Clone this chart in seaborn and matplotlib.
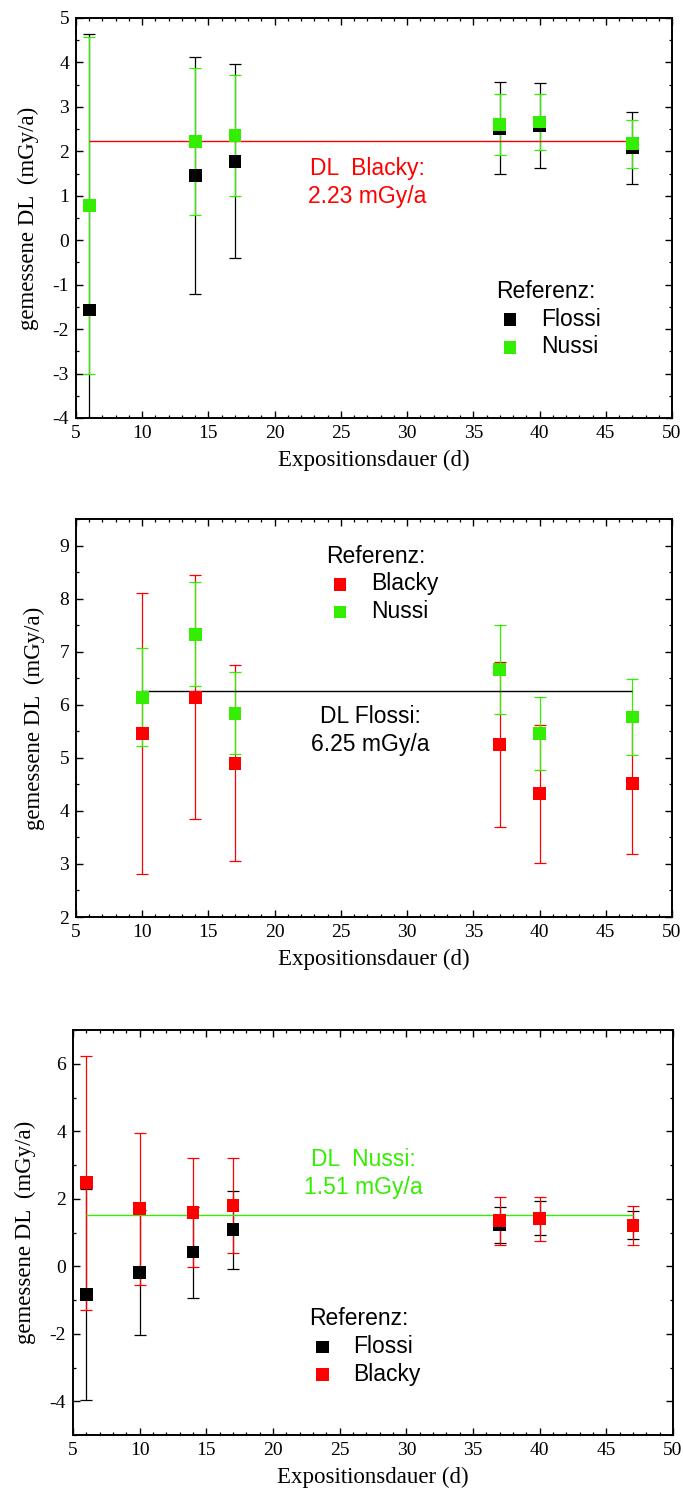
import numpy as np
import pandas as pd
import matplotlib
matplotlib.use("Agg")
import matplotlib.pyplot as plt
from matplotlib.ticker import MultipleLocator
from matplotlib.font_manager import FontProperties
import seaborn as sns

# ---------------- data ----------------
days1 = [6, 14, 17, 37, 40, 47]
flossi1 = [-1.57, 1.45, 1.78, 2.52, 2.58, 2.08]
flossi1_err = [6.2, 2.67, 2.19, 1.04, 0.95, 0.81]
nussi1 = [0.78, 2.22, 2.36, 2.61, 2.66, 2.17]
nussi1_err = [3.8, 1.66, 1.36, 0.69, 0.64, 0.54]
dl_blacky = 2.23

days2 = [10, 14, 17, 37, 40, 47]
blacky2 = [5.46, 6.14, 4.90, 5.25, 4.32, 4.52]
blacky2_err = [2.65, 2.30, 1.85, 1.55, 1.30, 1.33]
nussi2 = [6.14, 7.33, 5.84, 6.66, 5.46, 5.77]
nussi2_err = [0.92, 0.98, 0.77, 0.84, 0.69, 0.72]
dl_flossi = 6.25

days3 = [6, 10, 14, 17, 37, 40, 47]
flossi3 = [-0.84, -0.18, 0.42, 1.08, 1.22, 1.42, 1.22]
flossi3_err = [3.12, 1.86, 1.35, 1.15, 0.53, 0.50, 0.41]
blacky3 = [2.47, 1.70, 1.60, 1.80, 1.35, 1.41, 1.20]
blacky3_err = [3.77, 2.25, 1.62, 1.42, 0.71, 0.65, 0.58]
dl_nussi = 1.51

BLACK = "#000000"
RED = "#FF0000"
GREEN = "#33EE00"

sns.set_theme(style="ticks")
plt.rcParams["font.family"] = ["Liberation Serif", "DejaVu Serif"]
plt.rcParams["axes.linewidth"] = 1.4
plt.rcParams["axes.edgecolor"] = "black"
plt.rcParams["axes.unicode_minus"] = False
plt.rcParams["text.color"] = "black"
plt.rcParams["axes.labelcolor"] = "black"
plt.rcParams["xtick.color"] = "black"
plt.rcParams["ytick.color"] = "black"
plt.rcParams["legend.labelcolor"] = "black"

SANS = ["Liberation Sans", "DejaVu Sans"]
fig = plt.figure(figsize=(6.83, 14.99), dpi=100)
W, H = 683, 1499


def make_ax(left, right, top, bottom):
    return fig.add_axes([left / W, 1 - bottom / H, (right - left) / W, (bottom - top) / H])


def style_ax(ax, ylim, ymaj, ymin):
    ax.set_xlim(5, 50)
    ax.set_ylim(*ylim)
    ax.xaxis.set_major_locator(MultipleLocator(5))
    ax.xaxis.set_minor_locator(MultipleLocator(1))
    ax.yaxis.set_major_locator(MultipleLocator(ymaj))
    ax.yaxis.set_minor_locator(MultipleLocator(ymin))
    ax.tick_params(which="both", direction="in", top=True, right=True,
                   labeltop=False, labelright=False, color="black", labelcolor="black")
    ax.tick_params(which="major", length=5, width=1.0, labelsize=14, pad=5)
    ax.tick_params(which="minor", length=2.5, width=0.9)
    for s in ax.spines.values():
        s.set_visible(True)
        s.set_linewidth(1.4)
        s.set_color("black")
    ax.set_xlabel("Expositionsdauer (d)", fontsize=16.5, labelpad=6, color="black")
    ax.set_ylabel("gemessene DL  (mGy/a)", fontsize=16.5, labelpad=10, color="black")
    ax.grid(False)
    ax.set_facecolor("white")


def series(ax, days, vals, errs, color, label):
    ax.errorbar(days, vals, yerr=errs, fmt="none", ecolor=color, elinewidth=0.9,
                capsize=4.5, capthick=0.9, zorder=2)


def markers(ax, days, vals, color, label):
    df = pd.DataFrame({"d": days, "v": vals})
    sns.scatterplot(data=df, x="d", y="v", ax=ax, marker="s", s=85, color=color,
                    edgecolor="none", linewidth=0, label=label, zorder=4)


def legend(ax, x, y):
    leg = ax.legend(title="Referenz:", loc="upper left", bbox_to_anchor=(x, y),
                    frameon=False, prop=FontProperties(family=SANS, size=16.5),
                    title_fontproperties=FontProperties(family=SANS, size=16.5),
                    handletextpad=0.75, labelspacing=0.2, borderpad=0, borderaxespad=0,
                    alignment="left", handlelength=1.2)
    leg.get_title().set_color("black")
    for t in leg.get_texts():
        t.set_color("black")
    return leg


# ---------------- panel 1 ----------------
ax1 = make_ax(76, 672, 18, 418)
series(ax1, days1, flossi1, flossi1_err, BLACK, "Flossi")
series(ax1, days1, nussi1, nussi1_err, GREEN, "Nussi")
ax1.hlines(dl_blacky, min(days1), max(days1), color=RED, lw=1.0, zorder=3)
markers(ax1, days1, flossi1, BLACK, "Flossi")
markers(ax1, days1, nussi1, GREEN, "Nussi")
style_ax(ax1, (-4, 5), 1, 0.5)
ax1.text(27.0, 1.3, "DL  Blacky:\n2.23 mGy/a", color=RED, ha="center", va="center",
         family=SANS, fontsize=16.5, linespacing=1.25)
legend(ax1, 0.705, 0.345)

# ---------------- panel 2 ----------------
ax2 = make_ax(76, 672, 519, 917)
series(ax2, days2, blacky2, blacky2_err, RED, "Blacky")
series(ax2, days2, nussi2, nussi2_err, GREEN, "Nussi")
ax2.hlines(dl_flossi, min(days2), max(days2), color=BLACK, lw=1.0, zorder=3)
markers(ax2, days2, blacky2, RED, "Blacky")
markers(ax2, days2, nussi2, GREEN, "Nussi")
style_ax(ax2, (2, 9.5), 1, 0.5)
ax2.text(27.2, 5.51, "DL Flossi:\n6.25 mGy/a", color=BLACK, ha="center", va="center",
         family=SANS, fontsize=16.5, linespacing=1.25)
legend(ax2, 0.42, 0.935)

# ---------------- panel 3 ----------------
ax3 = make_ax(73, 673, 1030, 1435)
series(ax3, days3, flossi3, flossi3_err, BLACK, "Flossi")
series(ax3, days3, blacky3, blacky3_err, RED, "Blacky")
ax3.hlines(dl_nussi, min(days3), max(days3), color=GREEN, lw=1.0, zorder=3)
markers(ax3, days3, flossi3, BLACK, "Flossi")
markers(ax3, days3, blacky3, RED, "Blacky")
style_ax(ax3, (-5, 7), 2, 1)
ax3.text(26.75, 2.75, "DL  Nussi:\n1.51 mGy/a", color=GREEN, ha="center", va="center",
         family=SANS, fontsize=16.5, linespacing=1.25)
legend(ax3, 0.393, 0.315)

fig.savefig("out.png", dpi=100, facecolor="white")
